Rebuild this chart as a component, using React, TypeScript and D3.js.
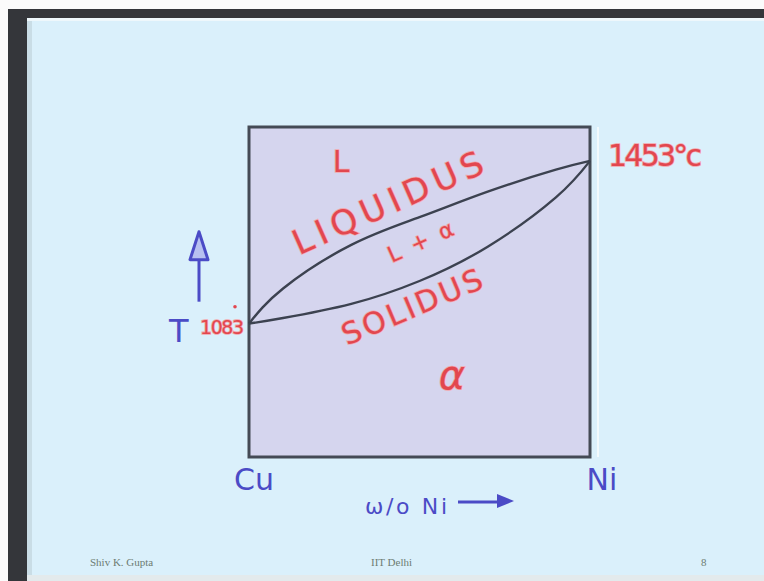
import React, { useEffect, useRef } from "react";
import * as d3 from "d3";

// Cu-Ni isomorphous phase diagram
const compNi = [0, 10, 30, 50, 70, 90, 100]; // wt% Ni
const liquidusT = [1083, 1163, 1262, 1325, 1383, 1433, 1453];
const solidusT = [1083, 1096, 1128, 1180, 1258, 1370, 1453];

// phase labels: text, wt% Ni, temperature
const phaseText = ["L", "LIQUIDUS", "L+α", "SOLIDUS", "α"];
const phaseComp = [27, 41, 50.5, 48, 59.5];
const phaseTemp = [1446, 1353, 1266, 1117, 960];

const meltLabels = ["1083", "1453°c"];
const endLabels = ["Cu", "Ni"];
const footer = ["Shiv K. Gupta", "IIT Delhi", "8"];

const App = () => {
  const ref = useRef<SVGSVGElement>(null);
  const width = 764;
  const height = 581;
  const red = "#e2474f";
  const blue = "#4b4bc6";

  useEffect(() => {
    const svg = d3.select(ref.current);
    svg.selectAll("*").remove();

    const x = d3.scaleLinear().domain([0, 100]).range([249, 590]);
    const y = d3.scaleLinear().domain([780, 1530]).range([457, 127]);

    // slide frame
    svg.append("rect").attr("width", width).attr("height", height).attr("fill", "#fbfbfb");
    svg.append("rect").attr("x", 8).attr("y", 9).attr("width", width).attr("height", height).attr("fill", "#34363a");
    svg.append("rect").attr("x", 27).attr("y", 18).attr("width", width).attr("height", height).attr("fill", "#daf0fb");
    svg.append("rect").attr("x", 27).attr("y", 18).attr("width", 5).attr("height", height).attr("fill", "#c9dde6");
    svg.append("rect").attr("x", 27).attr("y", 18).attr("width", width).attr("height", 3).attr("fill", "#eef7fb");
    svg.append("rect").attr("x", 27).attr("y", 575).attr("width", width).attr("height", 6).attr("fill", "#e3eaec");

    // faint line right of the box
    svg
      .append("line")
      .attr("x1", x(100) + 8)
      .attr("x2", x(100) + 8)
      .attr("y1", y(1530))
      .attr("y2", y(780))
      .attr("stroke", "#f2fafd")
      .attr("stroke-width", 2);

    // diagram box
    svg
      .append("rect")
      .attr("x", x(0))
      .attr("y", y(1530))
      .attr("width", x(100) - x(0))
      .attr("height", y(780) - y(1530))
      .attr("fill", "#d5d5ee")
      .attr("stroke", "#444a55")
      .attr("stroke-width", 3);

    const line = d3
      .line<number>()
      .x((d, i) => x(compNi[i]))
      .y((d) => y(d))
      .curve(d3.curveNatural);

    [liquidusT, solidusT].forEach((s) => {
      svg
        .append("path")
        .attr("d", line(s))
        .attr("fill", "none")
        .attr("stroke", "#3c4250")
        .attr("stroke-width", 2.4);
    });

    // red handwriting
    const redText = (g: any) =>
      g
        .attr("fill", red)
        .attr("stroke", "#f3a7ad")
        .attr("stroke-width", 1.6)
        .attr("paint-order", "stroke")
        .attr("font-family", "DejaVu Sans")
        .attr("text-anchor", "middle")
        .attr("dominant-baseline", "middle");

    const rot = [0, -24, -24, -23, 0];
    const size = [30, 34, 22, 30, 40];
    const lens = [0, 205, 70, 150, 0];
    phaseText.forEach((t, i) => {
      const px = x(phaseComp[i]);
      const py = y(phaseTemp[i]);
      const txt = svg
        .append("text")
        .attr("transform", `translate(${px},${py}) rotate(${rot[i]})`)
        .attr("font-size", size[i])
        .attr("font-style", i === 4 ? "italic" : "normal")
        .text(t);
      redText(txt);
      if (lens[i]) txt.attr("textLength", lens[i]).attr("lengthAdjust", "spacing");
    });

    // melting points
    redText(
      svg
        .append("text")
        .attr("x", x(100) + 65)
        .attr("y", y(1453) - 3)
        .attr("font-size", 30)
        .attr("textLength", 94)
        .attr("lengthAdjust", "spacing")
        .text(meltLabels[1])
    );
    redText(
      svg
        .append("text")
        .attr("x", x(0) - 27)
        .attr("y", y(1083) + 5)
        .attr("font-size", 19)
        .attr("textLength", 44)
        .text(meltLabels[0])
    );
    svg
      .append("circle")
      .attr("cx", x(0) - 14)
      .attr("cy", y(1083) - 17)
      .attr("r", 1.8)
      .attr("fill", red);

    // blue annotations
    svg
      .append("text")
      .attr("x", x(0) - 80)
      .attr("y", y(1083) + 18)
      .attr("font-family", "DejaVu Sans")
      .attr("font-size", 32)
      .attr("fill", blue)
      .text("T");

    const ax = x(0) - 50;
    svg
      .append("line")
      .attr("x1", ax)
      .attr("x2", ax)
      .attr("y1", y(1083) - 22)
      .attr("y2", y(1083) - 86)
      .attr("stroke", blue)
      .attr("stroke-width", 3);
    svg
      .append("path")
      .attr(
        "d",
        `M${ax},${y(1083) - 92} L${ax - 9},${y(1083) - 64} L${ax + 9},${y(1083) - 64} Z`
      )
      .attr("fill", "#b8c0f0")
      .attr("stroke", blue)
      .attr("stroke-width", 3)
      .attr("stroke-linejoin", "round");

    endLabels.forEach((t, i) => {
      svg
        .append("text")
        .attr("x", x(i * 100) + (i ? 12 : 5))
        .attr("y", y(780) + 33)
        .attr("text-anchor", "middle")
        .attr("font-family", "DejaVu Sans")
        .attr("font-size", 30)
        .attr("fill", blue)
        .text(t);
    });

    svg
      .append("text")
      .attr("x", 365)
      .attr("y", 514)
      .attr("font-family", "DejaVu Sans")
      .attr("font-size", 22)
      .attr("fill", blue)
      .attr("textLength", 82)
      .text("ω/o Ni");
    svg
      .append("line")
      .attr("x1", 458)
      .attr("x2", 500)
      .attr("y1", 502)
      .attr("y2", 502)
      .attr("stroke", blue)
      .attr("stroke-width", 3);
    svg
      .append("path")
      .attr("d", "M514,501 L497,494 L497,508 Z")
      .attr("fill", blue);

    // footer
    const fx = [90, 371, 701];
    footer.forEach((t, i) => {
      svg
        .append("text")
        .attr("x", fx[i])
        .attr("y", 566)
        .attr("font-family", "Liberation Serif")
        .attr("font-size", 11)
        .attr("fill", "#6d7c72")
        .text(t);
    });
  }, []);

  return (
    <svg
      ref={ref}
      width={width}
      height={height}
      style={{ position: "absolute", left: 0, top: 0 }}
    />
  );
};

export default App;
